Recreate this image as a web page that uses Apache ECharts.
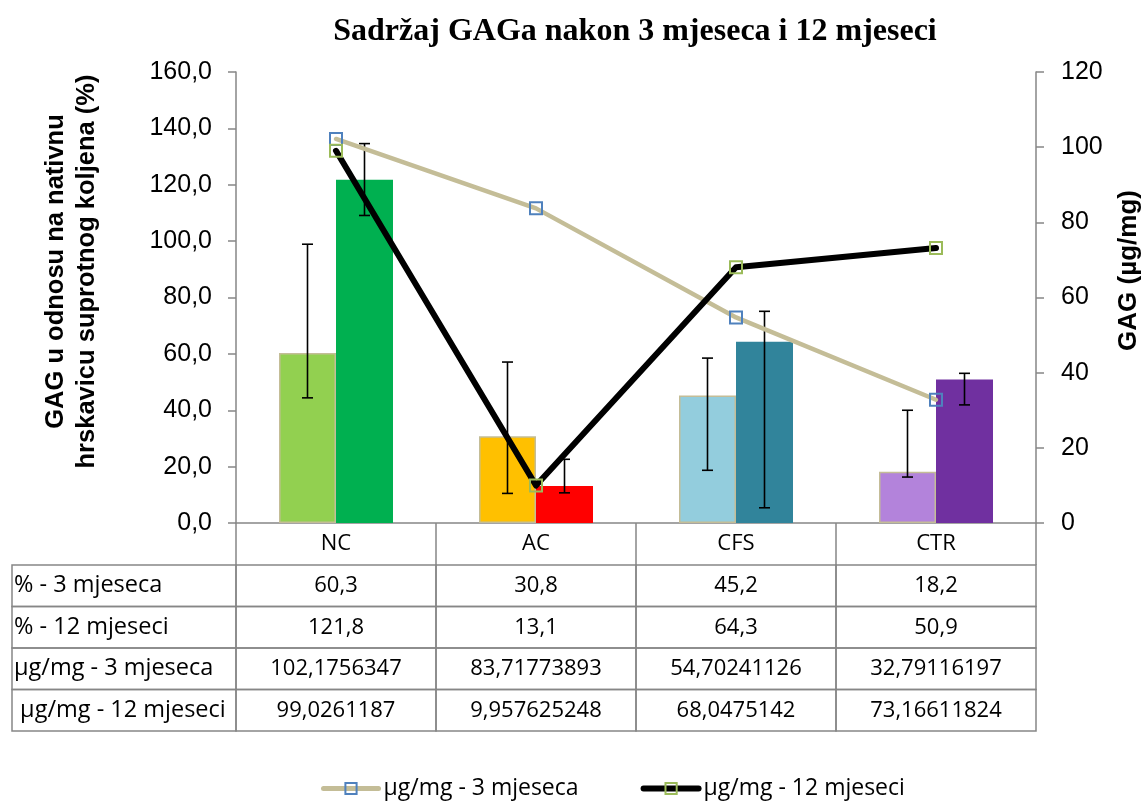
<!DOCTYPE html>
<html>
<head>
<meta charset="utf-8">
<script src="https://cdn.jsdelivr.net/npm/echarts@6/dist/echarts.min.js"></script>
<style>
  html, body { margin: 0; padding: 0; background: #ffffff; }
  #chart { width: 1146px; height: 801px; }
</style>
</head>
<body>
<div id="chart"></div>
<script>
// Groups
const categories = ['NC', 'AC', 'CFS', 'CTR'];

// GAG relative to native cartilage of the opposite knee (%)
const pct3 = [60.3, 30.8, 45.2, 18.2];
const pct12 = [121.8, 13.1, 64.3, 50.9];

// Error bar ends (%)
const pct3Low = [44.4, 10.5, 18.7, 16.3];
const pct3High = [98.9, 57.1, 58.5, 40.0];
const pct12Low = [109.1, 10.7, 5.4, 41.9];
const pct12High = [134.6, 22.6, 75.1, 53.1];

// GAG content (µg/mg)
const gag3 = [102.1756347, 83.71773893, 54.70241126, 32.79116197];
const gag12 = [99.0261187, 9.957625248, 68.0475142, 73.16611824];

// Data table row headings
const rowLabels = ['% - 3 mjeseca', '% - 12 mjeseci', 'µg/mg - 3 mjeseca', ' µg/mg - 12 mjeseci'];

// Bar colours per group
const colors3 = ['#92D050', '#FFC000', '#93CDDD', '#B383DB'];
const colors12 = ['#00B050', '#FF0000', '#31849B', '#7030A0'];

const BAR_W = 57;
const AXIS_GREY = '#868686';
const SANS = 'Liberation Sans, Arial, sans-serif';
const TABLE_FONT = 'Open Sans, Noto Sans, sans-serif';

const fmtComma = (v) => String(v).replace('.', ',');
const fmtPct = (v) => v.toFixed(1).replace('.', ',');

// text of every table cell, row by row
const tableRows = [
  pct3.map(fmtPct),
  pct12.map(fmtPct),
  gag3.map(fmtComma),
  gag12.map(fmtComma)
];

const cellData = [];
for (let r = 0; r < rowLabels.length; r++) {
  for (let c = -1; c < categories.length; c++) cellData.push([c, r]);
}

function renderCell(params, api) {
  const c = api.value(0);
  const r = api.value(1);
  const x0 = c < 0 ? -1.12 : c;
  const x1 = c < 0 ? 0 : c + 1;
  const p0 = api.coord([x0, r]);
  const p1 = api.coord([x1, r]);
  const h = api.size([0, 1])[1];
  const text = c < 0 ? rowLabels[r] : tableRows[r][c];
  return {
    type: 'group',
    children: [
      {
        type: 'rect',
        shape: { x: p0[0], y: p0[1] - h / 2, width: p1[0] - p0[0], height: h },
        style: { fill: 'rgba(0,0,0,0)', stroke: AXIS_GREY, lineWidth: 1.5 }
      },
      {
        type: 'text',
        style: {
          text: text,
          x: c < 0 ? p0[0] + 2 : (p0[0] + p1[0]) / 2,
          y: p0[1],
          align: c < 0 ? 'left' : 'center',
          verticalAlign: 'middle',
          font: (c < 0 ? '23.5px ' : '22px ') + TABLE_FONT,
          fill: '#000'
        }
      }
    ]
  };
}

function makeErrorRenderer(side) {
  return function (params, api) {
    const i = api.value(0);
    const pLo = api.coord([i, api.value(1)]);
    const pHi = api.coord([i, api.value(2)]);
    const x = pHi[0] + side * BAR_W / 2;
    const cap = 5.5;
    const st = { stroke: '#000', lineWidth: 1.6 };
    return {
      type: 'group',
      children: [
        { type: 'line', shape: { x1: x, y1: pHi[1], x2: x, y2: pLo[1] }, style: st },
        { type: 'line', shape: { x1: x - cap, y1: pHi[1], x2: x + cap, y2: pHi[1] }, style: st },
        { type: 'line', shape: { x1: x - cap, y1: pLo[1], x2: x + cap, y2: pLo[1] }, style: st }
      ]
    };
  };
}

const chart = echarts.init(document.getElementById('chart'), null, { renderer: 'canvas' });

chart.setOption({
  backgroundColor: '#ffffff',
  animation: false,
  title: {
    text: 'Sadržaj GAGa nakon 3 mjeseca i 12 mjeseci',
    left: 630,
    textAlign: 'center',
    top: 11,
    textStyle: { fontFamily: 'Liberation Serif, Times New Roman, serif', fontWeight: 'bold', fontSize: 32, color: '#000' }
  },
  legend: {
    data: [
      { name: 'µg/mg - 3 mjeseca', lineStyle: { width: 5 } },
      { name: 'µg/mg - 12 mjeseci', lineStyle: { width: 6 } }
    ],
    left: 316,
    top: 772,
    itemWidth: 55,
    itemHeight: 14,
    itemGap: 62,
    textStyle: { fontFamily: TABLE_FONT, fontSize: 23, color: '#000' }
  },
  grid: [
    { left: 236, right: 110, top: 72, height: 451, outerBoundsMode: 'none' },
    { left: 12, right: 110, top: 565, height: 166, outerBoundsMode: 'none' }
  ],
  xAxis: [
    {
      type: 'category',
      gridIndex: 0,
      data: categories,
      axisLine: { lineStyle: { color: AXIS_GREY, width: 1.5 } },
      axisTick: { show: true, alignWithLabel: false, length: 42, lineStyle: { color: AXIS_GREY, width: 1.5 } },
      axisLabel: { fontFamily: TABLE_FONT, fontSize: 22, color: '#000', margin: 21, verticalAlign: 'middle' },
      splitLine: { show: false }
    },
    { type: 'value', gridIndex: 1, min: -1.12, max: 4, show: false }
  ],
  yAxis: [
    {
      type: 'value',
      gridIndex: 0,
      position: 'left',
      min: 0,
      max: 160,
      interval: 20,
      name: 'GAG u odnosu na nativnu\nhrskavicu suprotnog koljena (%)',
      nameLocation: 'middle',
      nameRotate: 90,
      nameGap: 134,
      nameTextStyle: { fontFamily: SANS, fontWeight: 'bold', fontSize: 25.5, color: '#000', lineHeight: 31, padding: [0, 0, 0, 52] },
      axisLine: { show: true, lineStyle: { color: AXIS_GREY, width: 1.5 } },
      axisTick: { show: true, length: 8, lineStyle: { color: AXIS_GREY, width: 1.5 } },
      axisLabel: { fontFamily: SANS, fontSize: 25, color: '#000', margin: 24, formatter: fmtPct },
      splitLine: { show: false }
    },
    {
      type: 'value',
      gridIndex: 0,
      position: 'right',
      min: 0,
      max: 120,
      interval: 20,
      name: 'GAG (µg/mg)',
      nameLocation: 'middle',
      nameRotate: 90,
      nameGap: 80,
      nameTextStyle: { fontFamily: SANS, fontWeight: 'bold', fontSize: 26, color: '#000', padding: [0, 0, 0, 54] },
      axisLine: { show: true, lineStyle: { color: AXIS_GREY, width: 1.5 } },
      axisTick: { show: true, length: 8, lineStyle: { color: AXIS_GREY, width: 1.5 } },
      axisLabel: { fontFamily: SANS, fontSize: 25, color: '#000', margin: 25 },
      splitLine: { show: false }
    },
    {
      type: 'category',
      gridIndex: 1,
      data: rowLabels,
      inverse: true,
      show: false
    }
  ],
  series: [
    {
      name: '% - 3 mjeseca',
      type: 'bar',
      xAxisIndex: 0,
      yAxisIndex: 0,
      barWidth: BAR_W,
      barGap: '0%',
      z: 2,
      data: pct3.map((v, i) => ({ value: v, itemStyle: { color: colors3[i], borderColor: '#C4BD97', borderWidth: 1.5 } }))
    },
    {
      name: '% - 12 mjeseci',
      type: 'bar',
      xAxisIndex: 0,
      yAxisIndex: 0,
      barWidth: BAR_W,
      barGap: '0%',
      z: 2,
      data: pct12.map((v, i) => ({ value: v, itemStyle: { color: colors12[i] } }))
    },
    {
      name: 'err3',
      type: 'custom',
      xAxisIndex: 0,
      yAxisIndex: 0,
      z: 3,
      renderItem: makeErrorRenderer(-1),
      data: categories.map((c, i) => [i, pct3Low[i], pct3High[i]])
    },
    {
      name: 'err12',
      type: 'custom',
      xAxisIndex: 0,
      yAxisIndex: 0,
      z: 3,
      renderItem: makeErrorRenderer(1),
      data: categories.map((c, i) => [i, pct12Low[i], pct12High[i]])
    },
    {
      name: 'µg/mg - 3 mjeseca',
      type: 'line',
      xAxisIndex: 0,
      yAxisIndex: 1,
      z: 4,
      data: gag3,
      color: '#C4BD97',
      symbol: 'rect',
      symbolSize: 12,
      lineStyle: { color: '#C4BD97', width: 4.5, cap: 'round', join: 'round' },
      itemStyle: { color: 'rgba(255,255,255,0)', borderColor: '#4F81BD', borderWidth: 2 }
    },
    {
      name: 'µg/mg - 12 mjeseci',
      type: 'line',
      xAxisIndex: 0,
      yAxisIndex: 1,
      z: 5,
      data: gag12,
      color: '#000000',
      symbol: 'rect',
      symbolSize: 12,
      lineStyle: { color: '#000000', width: 6, cap: 'round', join: 'round' },
      itemStyle: { color: 'rgba(255,255,255,0)', borderColor: '#9BBB59', borderWidth: 2 }
    },
    {
      name: 'table',
      type: 'custom',
      xAxisIndex: 1,
      yAxisIndex: 2,
      renderItem: renderCell,
      data: cellData
    }
  ]
});
</script>
</body>
</html>
